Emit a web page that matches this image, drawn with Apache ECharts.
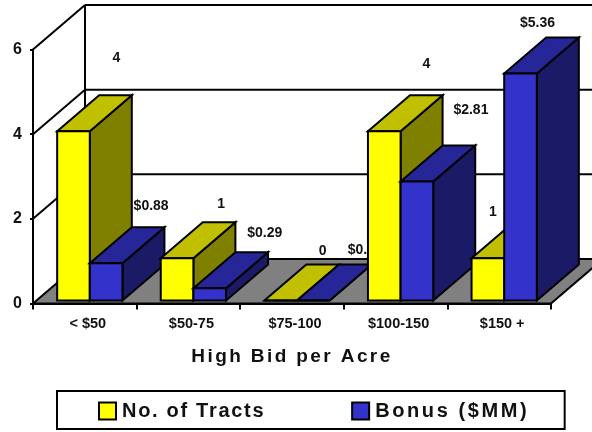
<!DOCTYPE html>
<html>
<head>
<meta charset="utf-8">
<style>html,body{margin:0;padding:0;background:#fff}#c{width:592px;height:432px}</style>
<script src="https://cdn.jsdelivr.net/npm/echarts@6/dist/echarts.min.js"></script>
</head>
<body>
<div id="c"></div>
<script>
const categories = ['< $50', '$50-75', '$75-100', '$100-150', '$150 +'];
const tracts = [4, 1, 0, 4, 1];
const bonus = [0.88, 0.29, 0, 2.81, 5.36];
const bonusText = ['$0.88', '$0.29', '$0.00', '$2.81', '$5.36'];
const yTicks = [0, 2, 4, 6];

// 3-D look (pixels)
const wallDepth = [52, -44.5];
const barDepth = [42, -36];
const barLift = 3, groupShift = 5, barFrac = 0.315;
// Hand-placed label offsets from each bar's top-front centre
const tractLabelOffset = [[43, -73], [44, -54], [42, -49], [42, -67], [5, -46]];
const bonusLabelOffset = [[45, -57], [55, -55], [52, -50], [54, -71], [17, -50]];

// Letter-spaced text for the wide titles
const spaced = { 'High Bid per Acre': '2.4px', 'No. of Tracts': '1.7px', 'Bonus ($MM)': '2.6px' };
const proto = CanvasRenderingContext2D.prototype, fill = proto.fillText;
proto.fillText = function (t, x, y, m) {
  this.letterSpacing = spaced[t] || '0px';
  return m === undefined ? fill.call(this, t, x, y) : fill.call(this, t, x, y, m);
};

const font = 'Liberation Sans';
const chart = echarts.init(document.getElementById('c'));
const ink = { stroke: '#000', lineWidth: 2, lineJoin: 'miter' };

function poly(points, color, z2) {
  return { type: 'polygon', z2: z2 || 0, shape: { points }, style: Object.assign({ fill: color }, ink) };
}
function line(a, b) {
  return { type: 'line', shape: { x1: a[0], y1: a[1], x2: b[0], y2: b[1] }, style: { stroke: '#000', lineWidth: 2 } };
}
function wallItem(params, api) {
  const cs = params.coordSys, d = wallDepth;
  const p = api.coord([0, api.value(1)]);
  const xL = cs.x, xR = cs.x + cs.width, y = p[1];
  const kids = [];
  if (api.value(1) === 0) {
    const top = api.coord([0, yTicks[yTicks.length - 1]])[1];
    kids.push(poly([[xL, y], [xR, y], [xR + d[0], y + d[1]], [xL + d[0], y + d[1]]], '#808080'));
    kids.push(line([xL + d[0], y + d[1]], [xL + d[0], top + d[1]]));
  } else {
    kids.push(line([xL, y], [xL + d[0], y + d[1]]));
    kids.push(line([xL + d[0], y + d[1]], [xR + d[0], y + d[1]]));
  }
  return { type: 'group', children: kids };
}
// Each category paints over the previous one, yellow before blue
function barItem(slot, front, top, side) {
  return function (params, api) {
    const band = api.size([1, 0])[0], w = band * barFrac;
    const i = api.value(0);
    const p = api.coord([i, api.value(1)]);
    const base = api.coord([i, 0])[1] - barLift;
    const x0 = p[0] + groupShift + slot * w, x1 = x0 + w, y = p[1] - barLift;
    const dx = barDepth[0], dy = barDepth[1];
    const z = 10 + i * 10 + (slot + 1) * 5;
    return { type: 'group', children: [
      poly([[x1, base], [x1 + dx, base + dy], [x1 + dx, y + dy], [x1, y]], side, z),
      poly([[x0, y], [x1, y], [x1 + dx, y + dy], [x0 + dx, y + dy]], top, z + 1),
      poly([[x0, y], [x1, y], [x1, base], [x0, base]], front, z + 2)
    ] };
  };
}
function labelItem(slot, texts, offsets) {
  return function (params, api) {
    const i = api.value(0);
    const band = api.size([1, 0])[0], w = band * barFrac;
    const p = api.coord([i, api.value(1)]);
    return { type: 'text', style: {
      text: String(texts[i]),
      x: p[0] + groupShift + (slot + 0.5) * w + offsets[i][0],
      y: p[1] - barLift + offsets[i][1],
      align: 'center', verticalAlign: 'middle',
      font: 'bold 14px "' + font + '"', fill: '#111'
    } };
  };
}

chart.setOption({
  animation: false,
  backgroundColor: '#fff',
  grid: { left: 33, right: 41, top: 49.5, height: 254, containLabel: false },
  xAxis: {
    type: 'category', data: categories,
    axisLine: { lineStyle: { color: '#000', width: 2 } },
    axisTick: { show: true, length: 6, lineStyle: { color: '#000', width: 2 } },
    axisLabel: { color: '#111', fontFamily: font, fontWeight: 'bold', fontSize: 14.5, margin: 13, padding: [0, 0, 0, 6] },
    name: 'High Bid per Acre', nameLocation: 'center', nameGap: 44,
    nameTextStyle: { color: '#111', fontFamily: font, fontWeight: 'bold', fontSize: 19 }
  },
  yAxis: {
    type: 'value', min: 0, max: 6, interval: 2,
    axisLine: { show: true, lineStyle: { color: '#000', width: 2 } },
    axisTick: { show: true, length: 3, lineStyle: { color: '#000', width: 2 } },
    axisLabel: { color: '#111', fontFamily: font, fontWeight: 'bold', fontSize: 16, margin: 11 },
    splitLine: { show: false }
  },
  legend: {
    data: ['No. of Tracts', 'Bonus ($MM)'],
    left: 57, top: 391,
    padding: [10, 64, 8, 41], itemGap: 108,
    borderColor: '#000', borderWidth: 2, backgroundColor: '#fff',
    itemWidth: 17, itemHeight: 17, icon: 'rect',
    itemStyle: { borderColor: '#000', borderWidth: 2 },
    textStyle: { color: '#111', fontFamily: font, fontWeight: 'bold', fontSize: 20, padding: [0, 0, 0, 1] },
    selectedMode: false
  },
  series: [
    { type: 'custom', name: 'walls', z: 1, renderItem: wallItem, data: yTicks.map(v => [0, v]), encode: { x: 0, y: 1 }, silent: true },
    { type: 'custom', name: 'tractLabels', z: 2, renderItem: labelItem(-1, tracts, tractLabelOffset), data: tracts.map((v, i) => [i, v]), encode: { x: 0, y: 1 }, silent: true },
    { type: 'custom', name: 'bonusLabels', z: 2, renderItem: labelItem(0, bonusText, bonusLabelOffset), data: bonus.map((v, i) => [i, v]), encode: { x: 0, y: 1 }, silent: true },
    { type: 'custom', name: 'No. of Tracts', z: 3, itemStyle: { color: '#FFFF00' }, renderItem: barItem(-1, '#FFFF00', '#C0C000', '#808000'), data: tracts.map((v, i) => [i, v]), encode: { x: 0, y: 1 } },
    { type: 'custom', name: 'Bonus ($MM)', z: 3, itemStyle: { color: '#3333CC' }, renderItem: barItem(0, '#3333CC', '#262699', '#1A1A66'), data: bonus.map((v, i) => [i, v]), encode: { x: 0, y: 1 } }
  ]
});
</script>
</body>
</html>
